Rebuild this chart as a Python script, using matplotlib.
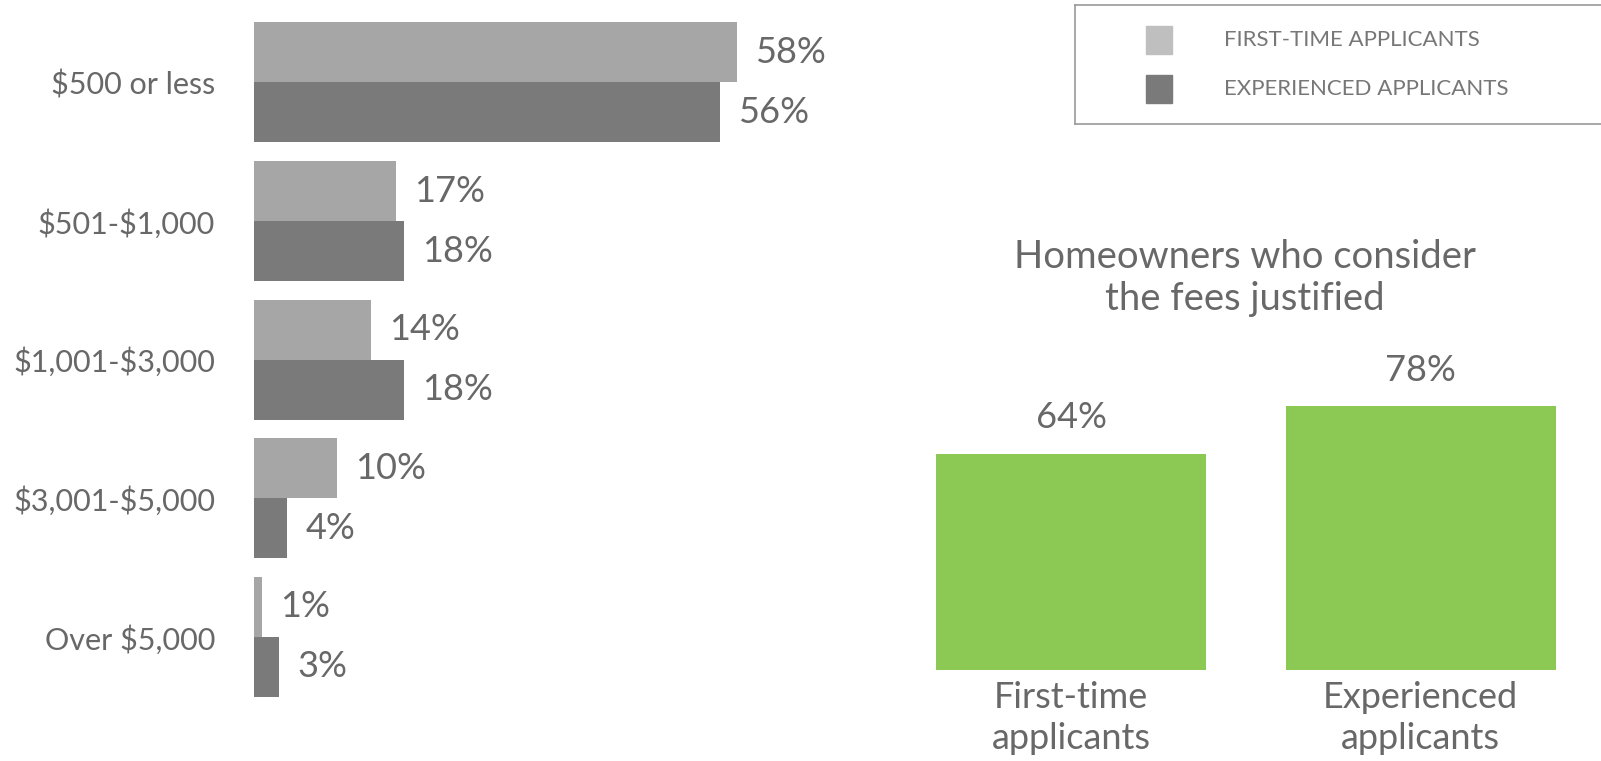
import numpy as np
import matplotlib.pyplot as plt
from matplotlib.patches import Rectangle
from matplotlib import font_manager

# Date
categories = ['$500 or less', '$501-$1,000', '$1,001-$3,000', '$3,001-$5,000', 'Over $5,000']
first_time = [58, 17, 14, 10, 1]
experienced = [56, 18, 18, 4, 3]

justified_labels = ['First-time\napplicants', 'Experienced\napplicants']
justified_values = [64, 78]

legend_labels = ['FIRST-TIME APPLICANTS', 'EXPERIENCED APPLICANTS']
title_right = 'Homeowners who consider\nthe fees justified'

# Stil
names = {f.name for f in font_manager.fontManager.ttflist}
fam = ['Lato', 'DejaVu Sans'] if 'Lato' in names else ['DejaVu Sans']
plt.rcParams['font.family'] = fam
plt.rcParams['font.weight'] = 'normal'
plt.rcParams['text.parse_math'] = False

light = '#a6a6a6'
dark = '#7a7a7a'
green = '#8bc954'
txt = '#686868'

W, H = 1601, 761
fig = plt.figure(figsize=(W / 100, H / 100), dpi=100)

# Grafic stanga (bare orizontale)
ax = fig.add_axes([254 / W, 0, 583 / W, 1])
y = np.arange(len(categories))
h = 0.433
b1 = ax.barh(y - h / 2, first_time, height=h, color=light)
b2 = ax.barh(y + h / 2, experienced, height=h, color=dark)
ax.set_xlim(0, 70)
ax.set_ylim(4.895, -0.595)
ax.set_yticks(y)
ax.set_yticklabels(categories, fontsize=22, color=txt)
ax.tick_params(axis='y', length=0, pad=28)
ax.set_xticks([])
for s in ax.spines.values():
    s.set_visible(False)
for bars, vals in [(b1, first_time), (b2, experienced)]:
    for bar, v in zip(bars, vals):
        ax.annotate(f'{v}%', (bar.get_width(), bar.get_y() + bar.get_height() / 2),
                    xytext=(13, 0), textcoords='offset points',
                    va='center', ha='left', fontsize=26, color=txt)

# Legenda desenata manual
leg = fig.add_axes([1075 / W, 1 - 124 / H, (W + 20 - 1075) / W, 119 / H])
leg.set_xlim(0, W + 20 - 1075)
leg.set_ylim(119, 0)
leg.set_xticks([])
leg.set_yticks([])
for s in leg.spines.values():
    s.set_color('#999999')
    s.set_linewidth(1.2)
leg.patch.set_alpha(0)
for i, (lab, col) in enumerate(zip(legend_labels, ['#bfbfbf', dark])):
    yc = 35 + 49 * i
    leg.add_patch(Rectangle((71, yc - 14), 26, 28, color=col))
    leg.text(149, yc, lab, va='center', ha='left', fontsize=16, color='#777777')

# Grafic dreapta (bare verticale)
ax2 = fig.add_axes([870 / W, 1 - 670 / H, (W - 870) / W, 370 / H])
x = np.arange(len(justified_values))
bars = ax2.bar(x, justified_values, width=0.7725, color=green)
ax2.set_xlim(-0.575, 1.516)
ax2.set_ylim(0, 109.5)
ax2.set_xticks(x)
ax2.set_xticklabels(justified_labels, fontsize=26, color=txt, linespacing=1.3)
ax2.tick_params(axis='x', length=0, pad=8)
ax2.set_yticks([])
for s in ax2.spines.values():
    s.set_visible(False)
for bar, v in zip(bars, justified_values):
    ax2.annotate(f'{v}%', (bar.get_x() + bar.get_width() / 2, bar.get_height()),
                 xytext=(0, 14), textcoords='offset points',
                 ha='center', va='bottom', fontsize=26, color=txt)

fig.text(1245 / W, 1 - 278 / H, title_right, ha='center', va='center',
         fontsize=27.5, color=txt, linespacing=1.22)

fig.savefig('out.png', dpi=100)
